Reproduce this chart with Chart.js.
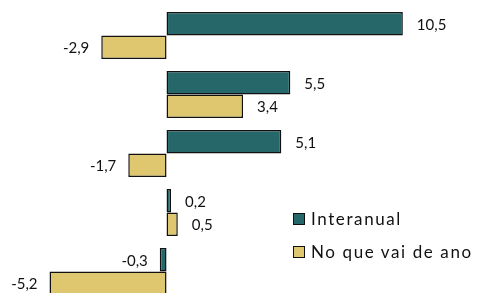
<!DOCTYPE html>
<html>
<head>
<meta charset="utf-8">
<script src="https://cdn.jsdelivr.net/npm/chart.js@4"></script>
<style>
  body { margin: 0; width: 478px; height: 293px; overflow: hidden; background: #fff; position: relative; font-family: Lato, sans-serif; }
  #legend { position: absolute; left: 293px; top: 202px; font-size: 17px; letter-spacing: 1.6px; color: #111; }
  #legend div { display: flex; align-items: center; height: 33px; }
  #legend span.box { width: 10px; height: 10px; border: 1.5px solid #111; margin-right: 6px; }
</style>
</head>
<body>
<canvas id="grafico" width="478" height="301"></canvas>
<div id="legend"></div>
<script>
const categorias = ["A", "B", "C", "D", "E"];
const interanual = [10.5, 5.5, 5.1, 0.2, -0.3];
const noQueVaiDeAno = [-2.9, 3.4, -1.7, 0.5, -5.2];
const series = ["Interanual", "No que vai de ano"];
const colores = ["#26676A", "#DEC76E"];

// Etiquetas de valores con coma decimal
const etiquetas = {
  id: "etiquetas",
  afterDatasetsDraw(chart) {
    const ctx = chart.ctx;
    ctx.save();
    ctx.font = "15px Lato, sans-serif";
    ctx.fillStyle = "#111";
    ctx.textBaseline = "middle";
    chart.data.datasets.forEach((ds, i) => {
      chart.getDatasetMeta(i).data.forEach((bar, j) => {
        const v = ds.data[j];
        const txt = v.toFixed(1).replace(".", ",");
        if (v >= 0) {
          ctx.textAlign = "left";
          ctx.fillText(txt, bar.x + 14, bar.y + 1);
        } else {
          ctx.textAlign = "right";
          ctx.fillText(txt, bar.x - 12, bar.y + 1);
        }
      });
    });
    ctx.restore();
  }
};

new Chart(document.getElementById("grafico").getContext("2d"), {
  type: "bar",
  data: {
    labels: categorias,
    datasets: [
      { label: series[0], data: interanual, backgroundColor: colores[0] },
      { label: series[1], data: noQueVaiDeAno, backgroundColor: colores[1] }
    ].map(d => Object.assign(d, {
      borderColor: "#111",
      borderWidth: 1.5,
      borderSkipped: false,
      barPercentage: 1.0,
      categoryPercentage: 0.8
    }))
  },
  options: {
    indexAxis: "y",
    responsive: false,
    animation: false,
    devicePixelRatio: 1,
    layout: { padding: { top: 6, left: 0, right: 0, bottom: 0 } },
    scales: {
      x: { display: false, min: -7.4, max: 13.84 },
      y: { display: false }
    },
    plugins: {
      legend: { display: false },
      tooltip: { enabled: false }
    }
  },
  plugins: [etiquetas]
});

// Leyenda en HTML
const legend = document.getElementById("legend");
series.forEach((s, i) => {
  const row = document.createElement("div");
  row.innerHTML = '<span class="box" style="background:' + colores[i] + '"></span>' + s;
  legend.appendChild(row);
});
</script>
</body>
</html>
